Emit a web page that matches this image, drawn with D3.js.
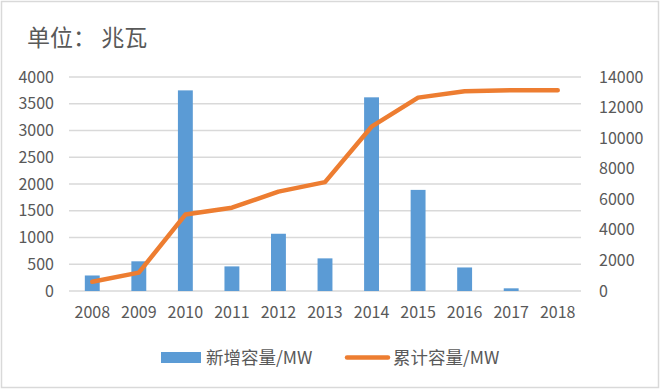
<!DOCTYPE html>
<html lang="zh-CN">
<head>
<meta charset="UTF-8">
<title>新增容量与累计容量</title>
<script src="https://d3js.org/d3.v7.min.js"></script>
<style>
  body { margin: 0; background: #fff; }
  svg text { font-family: "Noto Sans CJK SC", "Noto Sans", sans-serif; fill: #595959; }
</style>
</head>
<body>
<div id="chart"></div>
<script>
// 数据
const years = ["2008", "2009", "2010", "2011", "2012", "2013", "2014", "2015", "2016", "2017", "2018"];
const added = [290, 555, 3750, 460, 1070, 610, 3620, 1890, 440, 50, 0];
const total = [600, 1200, 5000, 5450, 6500, 7120, 10750, 12650, 13070, 13130, 13130];
const leftTicks = [0, 500, 1000, 1500, 2000, 2500, 3000, 3500, 4000];
const rightTicks = [0, 2000, 4000, 6000, 8000, 10000, 12000, 14000];

const width = 661, height = 389;
const m = { top: 77, right: 80, bottom: 98, left: 69 };
const fs = 16;

const svg = d3.select("#chart").append("svg")
  .attr("width", width).attr("height", height);

// 外框
svg.append("rect")
  .attr("x", 1.5).attr("y", 1.5)
  .attr("width", width - 4).attr("height", height - 3)
  .attr("fill", "#fff").attr("stroke", "#d9d9d9").attr("stroke-width", 1.5);

const x = d3.scaleBand().domain(years)
  .range([m.left, width - m.right]).paddingInner(0.68).paddingOuter(0.34);
const yL = d3.scaleLinear().domain([0, 4000]).range([height - m.bottom, m.top]);
const yR = d3.scaleLinear().domain([0, 14000]).range([height - m.bottom, m.top]);

// 网格线
svg.append("g").selectAll("line").data(leftTicks).join("line")
  .attr("x1", m.left).attr("x2", width - m.right)
  .attr("y1", d => yL(d)).attr("y2", d => yL(d))
  .attr("stroke", "#d9d9d9").attr("stroke-width", 1.3);

// 左轴
const axL = svg.append("g").attr("transform", `translate(${m.left},0)`)
  .call(d3.axisLeft(yL).tickValues(leftTicks).tickFormat(d3.format("d")).tickSize(0).tickPadding(15));
axL.select(".domain").remove();
axL.selectAll("text").attr("font-size", fs).attr("fill", "#595959")
  .attr("font-family", "Noto Sans CJK SC");

// 右轴
const axR = svg.append("g").attr("transform", `translate(${width - m.right},0)`)
  .call(d3.axisRight(yR).tickValues(rightTicks).tickFormat(d3.format("d")).tickSize(0).tickPadding(18));
axR.select(".domain").remove();
axR.selectAll("text").attr("font-size", fs).attr("fill", "#595959")
  .attr("font-family", "Noto Sans CJK SC");

// X轴
const axX = svg.append("g").attr("transform", `translate(0,${height - m.bottom})`)
  .call(d3.axisBottom(x).tickSize(0).tickPadding(16));
axX.select(".domain").remove();
axX.selectAll("text").attr("font-size", fs).attr("fill", "#595959")
  .attr("font-family", "Noto Sans CJK SC");

// 柱子
svg.append("g").selectAll("rect").data(years).join("rect")
  .attr("x", d => x(d))
  .attr("width", x.bandwidth())
  .attr("y", (d, i) => yL(added[i]))
  .attr("height", (d, i) => yL(0) - yL(added[i]))
  .attr("fill", "#5b9bd5");

// 折线
const line = d3.line()
  .x((d, i) => x(years[i]) + x.bandwidth() / 2)
  .y(d => yR(d));
svg.append("path").datum(total)
  .attr("d", line)
  .attr("fill", "none")
  .attr("stroke", "#ed7d31").attr("stroke-width", 4.5)
  .attr("stroke-linecap", "round").attr("stroke-linejoin", "round");

// 标题
svg.append("text").attr("x", 27).attr("y", 46)
  .attr("font-size", 23).text("单位： 兆瓦");

// 图例
const lg = svg.append("g");
lg.append("rect").attr("x", 161).attr("y", 352).attr("width", 40).attr("height", 11).attr("fill", "#5b9bd5");
lg.append("text").attr("x", 206).attr("y", 364).attr("font-size", 17.5).text("新增容量/MW");
lg.append("line").attr("x1", 347).attr("x2", 388).attr("y1", 357.5).attr("y2", 357.5)
  .attr("stroke", "#ed7d31").attr("stroke-width", 4.5).attr("stroke-linecap", "round");
lg.append("text").attr("x", 393).attr("y", 364).attr("font-size", 17.5).text("累计容量/MW");
</script>
</body>
</html>
